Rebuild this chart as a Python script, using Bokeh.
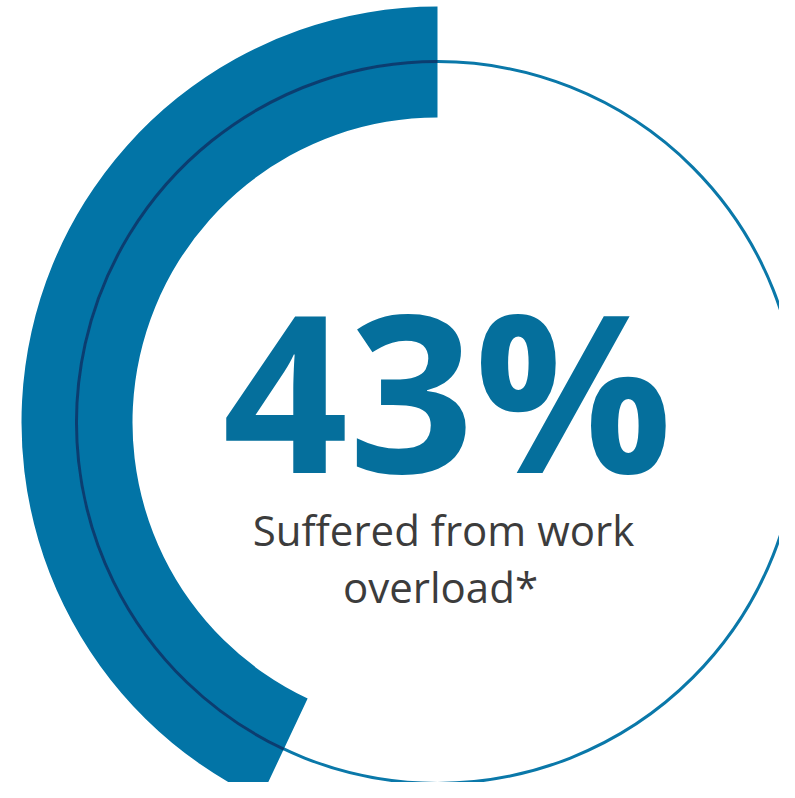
import math
from bokeh.plotting import figure
from bokeh.models import Range1d
from bokeh.core.properties import value
from bokeh.embed import file_html
from bokeh.resources import INLINE

# Data
pct = [43]
big_label = ["43%"]
caption_lines = ["Suffered from work", "overload*"]

W, H = 779, 782
p = figure(width=W, height=H, output_backend="svg", toolbar_location=None,
           x_range=Range1d(0, W), y_range=Range1d(-H, 0),
           min_border=0)
p.axis.visible = False
p.grid.visible = False
p.outline_line_color = None
p.background_fill_color = "white"
p.border_fill_color = "white"

cx, cy = 437, -422
start = math.pi / 2
end = start + 2 * math.pi * pct[0] / 100.0

p.annular_wedge(x=cx, y=cy, inner_radius=305, outer_radius=416,
                start_angle=start, end_angle=end, direction="anticlock",
                fill_color="#0274A6", line_color=None)

p.circle(x=cx, y=cy, radius=361, fill_color=None,
         line_color="#0A78A9", line_width=3)
p.arc(x=cx, y=cy, radius=361, start_angle=start, end_angle=end,
      direction="anticlock", line_color="#0B3D70", line_width=3)

p.text(x=[447], y=[-387], text=big_label, text_font=value("Open Sans"),
       text_font_style="bold", text_font_size="220px", text_align="center",
       text_baseline="middle", text_color="#056F9C")

p.text(x=[443, 440], y=[-529, -586], text=caption_lines,
       text_font=value("Open Sans"), text_font_size="42px",
       text_align="center", text_baseline="middle", text_color="#3C3C3C")

open("out.html", "w").write(file_html(p, INLINE))
